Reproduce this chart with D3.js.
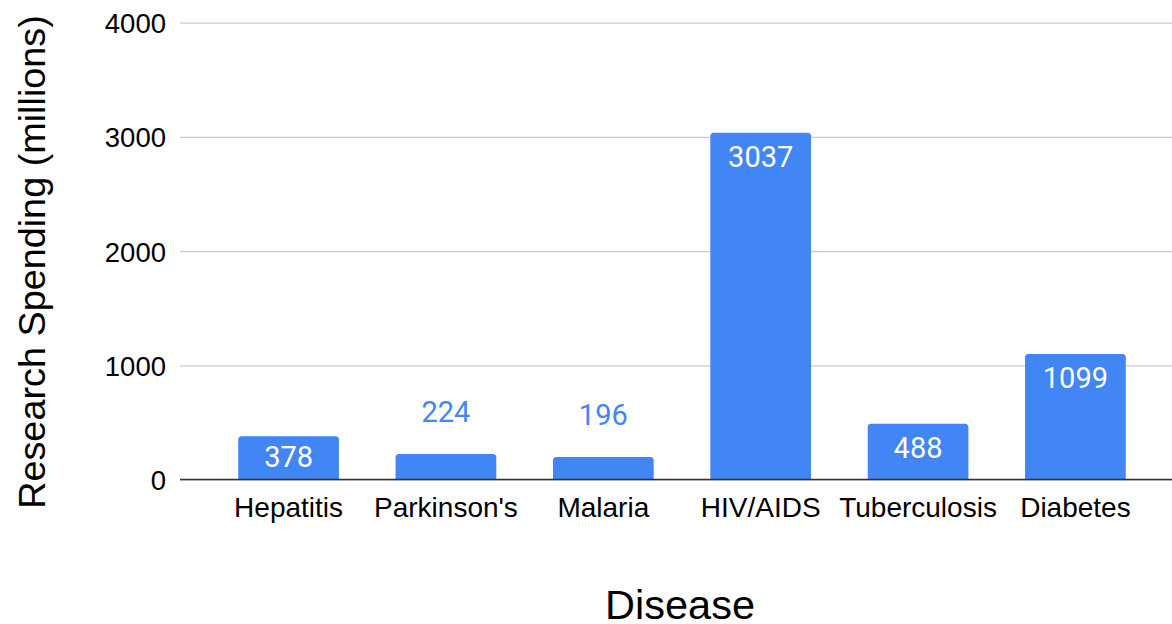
<!DOCTYPE html>
<html>
<head>
<meta charset="utf-8">
<script src="https://cdn.jsdelivr.net/npm/d3@7"></script>
<style>
  html, body { margin: 0; padding: 0; background: #fff; }
  svg { display: block; }
</style>
</head>
<body>
<svg id="chart" width="1172" height="624"></svg>
<script>
// Research spending by disease (millions)
const diseases = ["Hepatitis", "Parkinson's", "Malaria", "HIV/AIDS", "Tuberculosis", "Diabetes"];
const spending = [378, 224, 196, 3037, 488, 1099];
const yTicks = [0, 1000, 2000, 3000, 4000];

const data = diseases.map((d, i) => ({ name: d, value: spending[i] }));

const W = 1172, H = 624;
const plotLeft = 180, plotRight = 1184, plotTop = 22.7, plotBottom = 479.5;
const barColor = "#4285F4";

const svg = d3.select("#chart");

const x = d3.scaleBand()
  .domain(diseases)
  .range([plotLeft, plotRight])
  .paddingInner(0.36)
  .paddingOuter(0.37);

const y = d3.scaleLinear()
  .domain([0, 4000])
  .range([plotBottom, plotTop]);

// Gridlines and y tick labels
const yAxis = d3.axisLeft(y)
  .tickValues(yTicks)
  .tickSize(-(W - plotLeft))
  .tickPadding(14)
  .tickFormat(d3.format("d"));

const gy = svg.append("g")
  .attr("transform", `translate(${plotLeft},0)`)
  .call(yAxis);
gy.select(".domain").remove();
gy.selectAll(".tick line")
  .attr("stroke", "#cccccc")
  .attr("stroke-width", 1.3);
gy.selectAll(".tick text")
  .attr("font-family", "'Liberation Sans', Arial, sans-serif")
  .attr("font-size", 27.5)
  .attr("fill", "#000")
  .attr("dy", "0.36em");

// Bars with rounded top corners
const r = 3.5;
function barPath(d) {
  const x0 = x(d.name), w = x.bandwidth();
  const y0 = y(d.value), y1 = y(0);
  return `M${x0},${y1} L${x0},${y0 + r} Q${x0},${y0} ${x0 + r},${y0}
          L${x0 + w - r},${y0} Q${x0 + w},${y0} ${x0 + w},${y0 + r}
          L${x0 + w},${y1} Z`;
}

svg.append("g")
  .selectAll("path")
  .data(data)
  .join("path")
  .attr("d", barPath)
  .attr("fill", barColor);

// Baseline
svg.append("line")
  .attr("x1", plotLeft).attr("x2", W)
  .attr("y1", y(0)).attr("y2", y(0))
  .attr("stroke", "#333333")
  .attr("stroke-width", 1.4);

// Value labels: inside tall bars, above short ones
const insideMin = 300;
svg.append("g")
  .selectAll("text")
  .data(data)
  .join("text")
  .attr("x", d => x(d.name) + x.bandwidth() / 2)
  .attr("y", d => d.value >= insideMin
    ? Math.min(y(d.value) + 34, y(0) - 13)
    : y(d.value) - 32)
  .attr("text-anchor", "middle")
  .attr("font-family", "Roboto, sans-serif")
  .attr("font-size", 29)
  .attr("fill", d => d.value >= insideMin ? "#ffffff" : barColor)
  .text(d => d.value);

// Category labels
svg.append("g")
  .selectAll("text")
  .data(data)
  .join("text")
  .attr("x", d => x(d.name) + x.bandwidth() / 2)
  .attr("y", 517)
  .attr("text-anchor", "middle")
  .attr("font-family", "'Liberation Sans', Arial, sans-serif")
  .attr("font-size", 28)
  .attr("fill", "#000")
  .text(d => d.name);

// Axis titles
svg.append("text")
  .attr("x", 680)
  .attr("y", 619)
  .attr("text-anchor", "middle")
  .attr("font-family", "'Liberation Sans', Arial, sans-serif")
  .attr("font-size", 41.5)
  .attr("fill", "#000")
  .text("Disease");

svg.append("text")
  .attr("transform", "translate(45,262) rotate(-90)")
  .attr("text-anchor", "middle")
  .attr("font-family", "'Liberation Sans', Arial, sans-serif")
  .attr("font-size", 37.8)
  .attr("fill", "#000")
  .text("Research Spending (millions)");
</script>
</body>
</html>
